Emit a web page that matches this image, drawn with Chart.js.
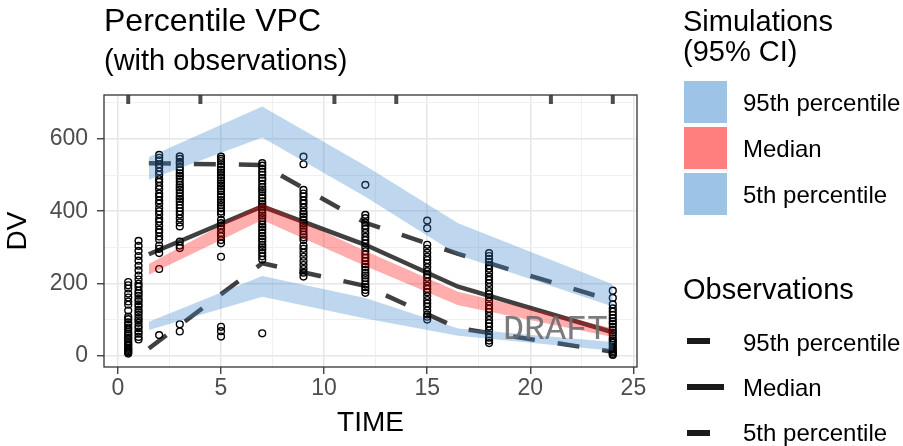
<!DOCTYPE html>
<html>
<head>
<meta charset="utf-8">
<script src="https://cdn.jsdelivr.net/npm/chart.js@4.4.0/dist/chart.umd.min.js"></script>
<style>
  body { margin: 0; background: #fff; }
  #wrap { position: relative; width: 903px; height: 446px; font-family: 'Liberation Sans', Arial, sans-serif; color: #000; }
  #wrap canvas { position: absolute; left: 0; top: 0; }
  .txt { position: absolute; white-space: nowrap; line-height: 1; }
  .sw { position: absolute; left: 684px; width: 43px; height: 42px; }
  .key { position: absolute; height: 6px; background: #1a1a1a; }
  .lab { font-size: 24px; left: 743px; }
</style>
</head>
<body>
<div id="wrap">
  <canvas id="myChart" width="903" height="446"></canvas>
  <div class="txt" style="left:104px; top:4px; font-size:32px;">Percentile VPC</div>
  <div class="txt" style="left:104px; top:46px; font-size:29px;">(with observations)</div>

  <div class="txt" style="left:683px; top:7px; font-size:29px;">Simulations</div>
  <div class="txt" style="left:683px; top:37px; font-size:29px;">(95% CI)</div>
  <div class="sw" style="top:81px; background:#9dc3e6;"></div>
  <div class="sw" style="top:127px; background:#ff7f7f;"></div>
  <div class="sw" style="top:173px; background:#9dc3e6;"></div>
  <div class="txt lab" style="top:91px;">95th percentile</div>
  <div class="txt lab" style="top:137px;">Median</div>
  <div class="txt lab" style="top:183px;">5th percentile</div>

  <div class="txt" style="left:683px; top:275px; font-size:29px;">Observations</div>
  <div class="key" style="left:687px; width:23px; top:338px;"></div>
  <div class="key" style="left:687px; width:37px; top:384px;"></div>
  <div class="key" style="left:687px; width:23px; top:430px;"></div>
  <div class="txt lab" style="top:331px;">95th percentile</div>
  <div class="txt lab" style="top:376px;">Median</div>
  <div class="txt lab" style="top:421px;">5th percentile</div>

  <div class="txt" style="left:503px; top:313px; font-size:35px; font-family:'Courier New','Liberation Mono',monospace; color:rgba(110,110,110,0.9);">DRAFT</div>
</div>
<script>
// observed DV per sampling time
const obsTimes = [0.5, 1, 2, 3, 5, 7, 9, 12, 15, 18, 24];
const obs_t05 = [6, 9, 12, 16, 19, 22, 27, 31, 35, 40, 46, 50, 56, 61, 66, 73, 78, 86, 92, 101, 108, 125, 141, 150, 161, 172, 186, 195, 204];
const obs_t1 = [45, 52, 61, 67, 76, 82, 91, 98, 104, 113, 120, 127, 136, 142, 151, 157, 166, 173, 180, 191, 199, 211, 222, 236, 249, 263, 276, 290, 304, 318];
const obs_t2 = [556, 548, 541, 530, 521, 510, 501, 489, 481, 470, 461, 449, 441, 430, 421, 409, 400, 391, 379, 371, 360, 349, 341, 330, 321, 305, 296, 284, 240, 57];
const obs_t3 = [552, 545, 537, 531, 522, 514, 505, 498, 491, 482, 473, 466, 459, 450, 441, 434, 427, 418, 409, 400, 391, 380, 369, 358, 316, 305, 298, 87, 67];
const obs_t5 = [551, 545, 539, 530, 523, 515, 507, 500, 493, 485, 477, 470, 463, 455, 446, 440, 431, 424, 417, 408, 399, 392, 376, 367, 360, 351, 340, 331, 320, 311, 274, 80, 68, 53];
const obs_t7 = [533, 526, 518, 509, 501, 492, 485, 476, 467, 460, 453, 444, 436, 427, 420, 413, 404, 395, 388, 381, 372, 363, 356, 349, 340, 331, 324, 316, 307, 300, 293, 284, 275, 266, 62];
const obs_t9 = [551, 530, 459, 449, 441, 430, 421, 410, 399, 392, 385, 376, 367, 360, 353, 344, 335, 328, 320, 305, 296, 285, 274, 262, 251, 240, 230, 219];
const obs_t12 = [473, 390, 381, 369, 360, 351, 340, 329, 320, 311, 300, 289, 280, 271, 262, 253, 246, 238, 229, 222, 215, 206, 197, 190, 182, 174];
const obs_t15 = [374, 353, 307, 296, 285, 274, 265, 256, 245, 234, 225, 216, 205, 194, 185, 176, 165, 154, 145, 136, 125, 114, 108, 100];
const obs_t18 = [284, 276, 268, 259, 250, 241, 230, 219, 210, 201, 190, 179, 170, 161, 150, 139, 130, 121, 110, 99, 90, 81, 70, 59, 50, 42, 35];
const obs_t24 = [180, 160, 142, 131, 122, 113, 104, 95, 88, 80, 71, 64, 57, 48, 42, 36, 30, 23, 18, 13, 9, 5, 2];

// bin times and percentiles
const binTime = [1.5, 7, 12, 16.5, 24];
const sim95_lo = [487, 604, 440, 279, 136];
const sim95_hi = [550, 690, 526, 367, 198];
const simMed_lo = [224, 376, 248, 140, 52];
const simMed_hi = [254, 422, 290, 177, 76];
const sim5_lo = [71, 163, 103, 55, 14];
const sim5_hi = [94, 221, 160, 75, 38];
const obs95 = [533, 528, 368, 282, 152];
const obsMed = [281, 413, 307, 191, 65];
const obs5 = [20, 256, 193, 76, 11];

// bin edges (rug at top) and axis breaks
const rugTime = [0.5, 4, 10.5, 13.5, 21, 24];
const xBreaks = [0, 2.5, 5, 7.5, 10, 12.5, 15, 17.5, 20, 22.5, 25];
const yBreaks = [0, 100, 200, 300, 400, 500, 600, 700];

const fontFam = "'Liberation Sans', Arial, sans-serif";
const obsCols = [obs_t05, obs_t1, obs_t2, obs_t3, obs_t5, obs_t7, obs_t9, obs_t12, obs_t15, obs_t18, obs_t24];

let points = [];
obsTimes.forEach(function (t, i) {
  obsCols[i].forEach(function (v) { points.push({ x: t, y: v }); });
});

function toXY(arr) {
  return binTime.map(function (t, i) { return { x: t, y: arr[i] }; });
}

function band(lo, hi, color) {
  return [
    { data: toXY(lo), borderColor: 'rgba(0,0,0,0)', borderWidth: 0, pointRadius: 0, fill: false, order: 1 },
    { data: toXY(hi), borderColor: 'rgba(0,0,0,0)', borderWidth: 0, pointRadius: 0, fill: '-1', backgroundColor: color, order: 1 }
  ];
}

function obsLine(arr, dash) {
  return { data: toXY(arr), borderColor: 'rgba(0,0,0,0.75)', borderWidth: 4.5, borderDash: dash, borderCapStyle: 'butt', pointRadius: 0, fill: false, order: 2 };
}

const blue = 'rgba(59,135,205,0.33)';
const red = 'rgba(255,0,0,0.32)';

let datasets = [
  { data: points, showLine: false, pointRadius: 3.4, pointBorderWidth: 1.4, pointBorderColor: '#000', pointBackgroundColor: 'rgba(0,0,0,0)', order: 3 },
  obsLine(obs95, [22, 23]),
  obsLine(obsMed, []),
  obsLine(obs5, [22, 23])
];
datasets = datasets.concat(band(sim95_lo, sim95_hi, blue), band(simMed_lo, simMed_hi, red), band(sim5_lo, sim5_hi, blue));

// rug marks on top and panel border
const panelBox = {
  id: 'panelBox',
  afterDatasetsDraw(chart) {
    const ctx = chart.ctx, a = chart.chartArea, xs = chart.scales.x;
    ctx.save();
    ctx.strokeStyle = '#4d4d4d';
    ctx.lineWidth = 4;
    rugTime.forEach(function (t) {
      const px = xs.getPixelForValue(t);
      ctx.beginPath();
      ctx.moveTo(px, a.top);
      ctx.lineTo(px, a.top + 9);
      ctx.stroke();
    });
    ctx.restore();
  },
  afterDraw(chart) {
    const ctx = chart.ctx, a = chart.chartArea;
    ctx.save();
    ctx.strokeStyle = '#333';
    ctx.lineWidth = 1.3;
    ctx.strokeRect(a.left, a.top, a.right - a.left, a.bottom - a.top);
    ctx.restore();
  }
};

const isMajorX = (v) => v % 5 === 0;
const isMajorY = (v) => v % 200 === 0;

let ctx = document.getElementById('myChart').getContext('2d');
let myChart = new Chart(ctx, {
  type: 'line',
  data: { datasets: datasets },
  plugins: [panelBox],
  options: {
    responsive: false,
    animation: false,
    devicePixelRatio: 1,
    layout: { padding: { left: 0, top: 95, right: 266, bottom: 0 } },
    plugins: { legend: { display: false }, tooltip: { enabled: false } },
    scales: {
      x: {
        type: 'linear',
        min: -0.675,
        max: 25.175,
        afterBuildTicks: (s) => { s.ticks = xBreaks.map((v) => ({ value: v })); },
        afterFit: (s) => { s.height = 79; },
        border: { display: false },
        grid: {
          color: (c) => (c.tick && isMajorX(c.tick.value) ? '#e6e6e6' : '#f0f0f0'),
          lineWidth: (c) => (c.tick && isMajorX(c.tick.value) ? 1.5 : 1),
          tickColor: (c) => (c.tick && isMajorX(c.tick.value) ? '#333' : 'rgba(0,0,0,0)'),
          tickWidth: 1.3,
          tickLength: 7
        },
        ticks: {
          autoSkip: false,
          maxRotation: 0,
          padding: 1,
          color: '#4d4d4d',
          font: { family: fontFam, size: 23 },
          callback: (v) => (isMajorX(v) ? String(v) : '')
        },
        title: { display: true, text: 'TIME', color: '#000', font: { family: fontFam, size: 28 }, padding: { top: 0, bottom: 6 } }
      },
      y: {
        type: 'linear',
        min: -31.3,
        max: 721.8,
        afterBuildTicks: (s) => { s.ticks = yBreaks.map((v) => ({ value: v })); },
        afterFit: (s) => { s.width = 104; },
        border: { display: false },
        grid: {
          color: (c) => (c.tick && isMajorY(c.tick.value) ? '#e6e6e6' : '#f0f0f0'),
          lineWidth: (c) => (c.tick && isMajorY(c.tick.value) ? 1.5 : 1),
          tickColor: (c) => (c.tick && isMajorY(c.tick.value) ? '#333' : 'rgba(0,0,0,0)'),
          tickWidth: 1.3,
          tickLength: 7
        },
        ticks: {
          autoSkip: false,
          padding: 9,
          color: '#4d4d4d',
          font: { family: fontFam, size: 23 },
          callback: (v) => (isMajorY(v) ? String(v) : '')
        },
        title: { display: true, text: 'DV', color: '#000', font: { family: fontFam, size: 28 }, padding: { top: 1, bottom: 0 } }
      }
    }
  }
});
</script>
</body>
</html>
